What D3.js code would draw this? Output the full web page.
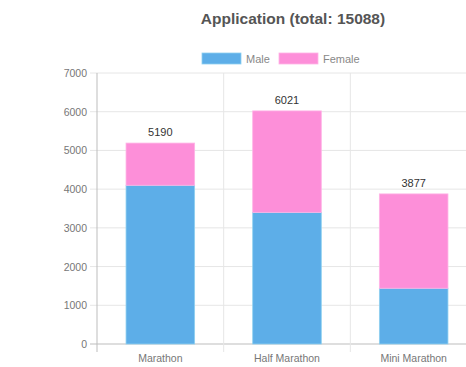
<!DOCTYPE html>
<html>
<head>
<meta charset="utf-8">
<script src="https://cdn.jsdelivr.net/npm/d3@7"></script>
<style>
  html, body { margin: 0; padding: 0; background: #fff; }
  svg { display: block; }
  text { font-family: "Liberation Sans", Arial, sans-serif; }
</style>
</head>
<body>
<svg id="chart" width="466" height="367"></svg>
<script>
const categories = ["Marathon", "Half Marathon", "Mini Marathon"];
const seriesNames = ["Male", "Female"];
const maleValues = [4100, 3400, 1440];
const femaleValues = [1090, 2621, 2437];
const totals = [5190, 6021, 3877];
const yTicks = [0, 1000, 2000, 3000, 4000, 5000, 6000, 7000];
const titleText = "Application (total: 15088)";

(function () {
const colors = { Male: "#5daee8", Female: "#fd8fd9" };
const borders = { Male: "#8fd0f0", Female: "#ffb3e6" };

const svg = d3.select("#chart");
const pLeft = 97, pRight = 477, pTop = 73, pBottom = 344;

const x = d3.scaleBand().domain(categories).range([pLeft, pRight]).paddingInner(0).paddingOuter(0);
const y = d3.scaleLinear().domain([0, 7000]).range([pBottom, pTop]);
const barW = 68.6;

const grid = "#e6e6e6";
svg.append("g").selectAll("line").data(yTicks).join("line")
  .attr("x1", pLeft - 7).attr("x2", pRight)
  .attr("y1", d => y(d)).attr("y2", d => y(d))
  .attr("stroke", d => d === 0 ? "#bdbdbd" : grid).attr("stroke-width", 1);

const bounds = categories.map(c => x(c)).concat([pRight]);
svg.append("g").selectAll("line").data(bounds).join("line")
  .attr("x1", d => d).attr("x2", d => d)
  .attr("y1", pTop).attr("y2", pBottom + 8)
  .attr("stroke", (d, i) => i === 0 ? "#bdbdbd" : grid).attr("stroke-width", 1);

const rows = categories.map((c, i) => ({ cat: c, Male: maleValues[i], Female: femaleValues[i] }));
const stack = d3.stack().keys(seriesNames)(rows);

svg.append("g").selectAll("g").data(stack).join("g")
  .attr("fill", d => colors[d.key])
  .selectAll("rect").data(d => d.map(v => ({ key: d.key, v }))).join("rect")
  .attr("x", d => x(d.v.data.cat) + x.bandwidth() / 2 - barW / 2)
  .attr("width", barW)
  .attr("y", d => y(d.v[1]))
  .attr("height", d => y(d.v[0]) - y(d.v[1]))
  .attr("stroke", d => borders[d.key]).attr("stroke-width", 0.8);

svg.append("g").selectAll("text").data(categories).join("text")
  .attr("x", d => x(d) + x.bandwidth() / 2)
  .attr("y", (d, i) => y(totals[i]) - 7)
  .attr("text-anchor", "middle")
  .attr("font-size", 11).attr("fill", "#333")
  .text((d, i) => totals[i]);

svg.append("g").selectAll("text").data(yTicks).join("text")
  .attr("x", pLeft - 10).attr("y", d => y(d) + 4)
  .attr("text-anchor", "end")
  .attr("font-size", 10.5).attr("fill", "#777")
  .text(d => d);

svg.append("g").selectAll("text").data(categories).join("text")
  .attr("x", d => x(d) + x.bandwidth() / 2)
  .attr("y", pBottom + 18)
  .attr("text-anchor", "middle")
  .attr("font-size", 10.5).attr("fill", "#777")
  .text(d => d);

svg.append("text")
  .attr("x", 293).attr("y", 24)
  .attr("text-anchor", "middle")
  .attr("font-size", 15.5).attr("font-weight", "bold").attr("fill", "#555")
  .text(titleText);

const legendX = [202, 279];
const lg = svg.append("g").selectAll("g").data(seriesNames).join("g")
  .attr("transform", (d, i) => `translate(${legendX[i]},53)`);
lg.append("rect").attr("width", 39).attr("height", 11)
  .attr("fill", d => colors[d]).attr("stroke", d => borders[d]).attr("stroke-width", 0.8);
lg.append("text").attr("x", 44).attr("y", 9.5)
  .attr("font-size", 11).attr("fill", "#888")
  .text(d => d);
})();
</script>
</body>
</html>
